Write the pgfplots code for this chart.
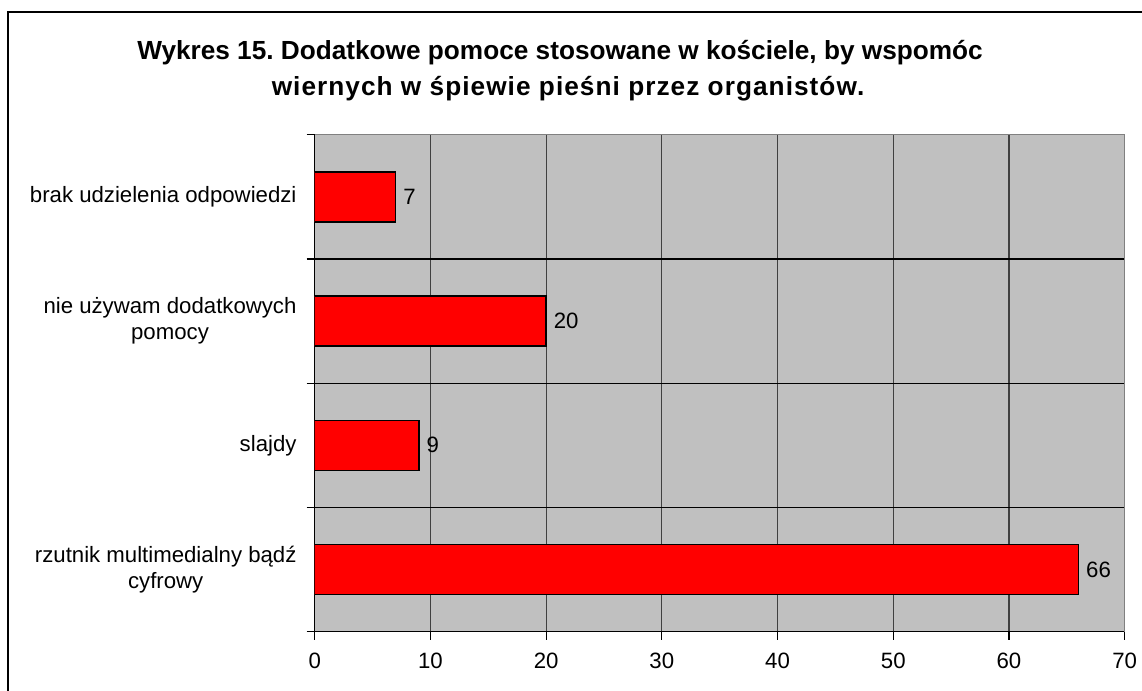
\documentclass[border=0pt]{standalone}
\usepackage{fontspec}
\setmainfont{Liberation Sans}
\usepackage{pgfplots}
\pgfplotsset{compat=1.18}
\definecolor{plotgray}{HTML}{C0C0C0}
\definecolor{framegray}{HTML}{808080}
\definecolor{gridgray}{HTML}{404040}
\frenchspacing
\begin{document}
\begin{tikzpicture}
\useasboundingbox (0,0) rectangle (1142bp,-691bp);
\draw[line width=2bp] (8bp,-12bp) rectangle (1160bp,-710bp);
% title, two lines
\node[anchor=base, inner sep=0pt, font=\bfseries\fontsize{26.2bp}{30bp}\selectfont]
  at (560bp,-59bp) {Wykres 15. Dodatkowe pomoce stosowane w kościele, by wspomóc};
\node[anchor=base, inner sep=0pt, font=\bfseries\fontsize{26.2bp}{30bp}\selectfont\addfontfeature{LetterSpace=4}]
  at (568bp,-95bp) {wiernych w śpiewie pieśni przez organistów.};
\begin{axis}[
    name=ax,
    at={(314.7bp,-631.7bp)}, anchor=south west,
    width=810bp, height=497bp, scale only axis,
    xbar, bar width=50bp,
    xmin=0, xmax=70, ymin=0.5, ymax=4.5,
    xtick={0,10,...,70},
    ytick={1,2,3,4},
    minor ytick={0.5,1.5,2.5,3.5,4.5},
    yticklabels={{rzutnik multimedialny bądź\\cyfrowy},slajdy,{nie używam dodatkowych\\pomocy},brak udzielenia odpowiedzi},
    xtick pos=bottom, ytick pos=left,
    tick align=outside,
    major tick length=8bp, minor tick length=8bp,
    major y tick style={draw=none},
    tick style={black, line width=1.2bp},
    xmajorgrids=true, ymajorgrids=false, yminorgrids=true,
    major grid style={gridgray, line width=1.2bp},
    minor grid style={black, line width=1.2bp},
    axis background/.style={fill=plotgray},
    axis line style={black, line width=1.5bp},
    /pgf/number format/assume math mode=true,
    ticklabel style={font=\fontsize{22.2bp}{26bp}\selectfont},
    yticklabel style={align=center, anchor=east, inner sep=0pt, xshift=-10bp},
    xticklabel style={anchor=north, inner sep=0pt, yshift=-13bp},
    nodes near coords,
    nodes near coords style={anchor=west, inner sep=0pt, xshift=7bp, font=\fontsize{22.2bp}{26bp}\selectfont},
]
\addplot[fill=red, draw=black, line width=1.5bp] coordinates {
    (66,1) (9,2) (20,3) (7,4)
};
\end{axis}
\draw[framegray, line width=1.5bp] (ax.south east) -- (ax.north east) -- (ax.north west);
\end{tikzpicture}
\end{document}
